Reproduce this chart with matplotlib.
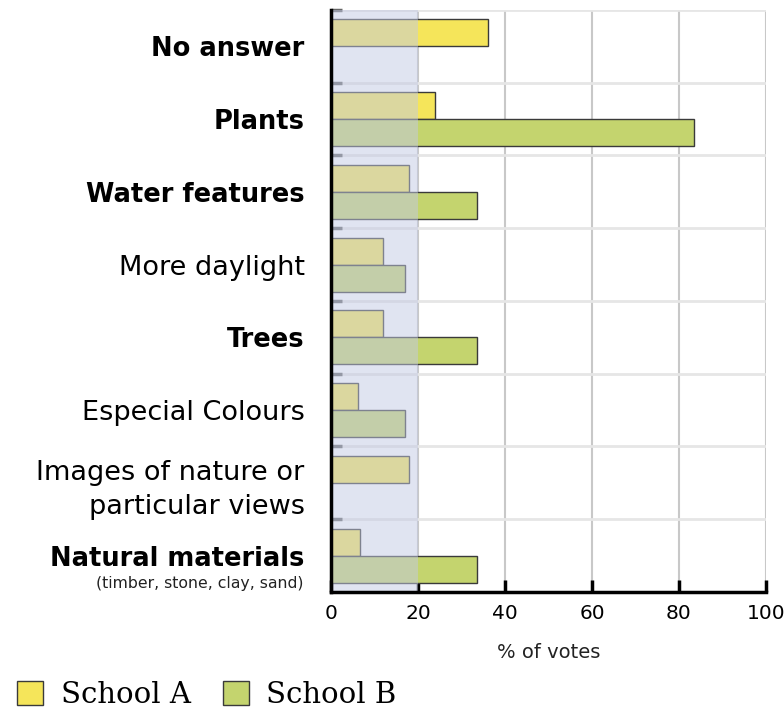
import numpy as np
import matplotlib.pyplot as plt
from matplotlib.patches import Patch

# survey categories, top to bottom
categories = ["No answer", "Plants", "Water features", "More daylight", "Trees",
              "Especial Colours", "Images of nature or\nparticular views", "Natural materials"]
bold_label = [True, True, True, False, True, False, False, True]
school_a = [36, 24, 18, 12, 12, 6.2, 18, 6.7]
school_b = [0, 83.5, 33.6, 17, 33.6, 17, 0, 33.6]
xticks = [0, 20, 40, 60, 80, 100]

col_a = "#f5e55a"
col_b = "#c4d46e"
edge = "#3a3a3a"

fig = plt.figure(figsize=(7.84, 7.11), dpi=100)
ax = fig.add_axes([0.4222, 0.1674, 0.5548, 0.8186])

y = np.arange(len(categories))
h = 0.37
ax.barh(y - h / 2, school_a, height=h, color=col_a, edgecolor=edge, linewidth=1, zorder=3)
bmask = np.array(school_b) > 0
ax.barh(y[bmask] + h / 2, np.array(school_b)[bmask], height=h, color=col_b,
        edgecolor=edge, linewidth=1, zorder=3)

# shaded band 0-20, laid over the bars
ax.axvspan(0, 20, color="#c3cae4", alpha=0.5, zorder=4, linewidth=0)

ax.set_xlim(0, 100)
ax.set_ylim(len(categories) - 0.5, -0.5)

# grid
for xv in xticks[1:]:
    ax.axvline(xv, color="#c8c8c8", linewidth=1.5, zorder=1)
for yb in np.arange(-0.5, len(categories) - 0.5, 1):
    ax.axhline(yb, color="#e6e6e6", linewidth=2, zorder=1)

ax.set_xticks(xticks)
ax.set_xticklabels([str(v) for v in xticks], fontsize=14.5)
ax.tick_params(axis="x", direction="in", length=9, width=2.5, color="black", pad=9)
ax.set_xlabel("% of votes", fontsize=14, labelpad=14, color="#222222")

ax.set_yticks(y)
ax.set_yticklabels(categories, linespacing=1.4)
ax.tick_params(axis="y", which="major", length=0, pad=19)
for lab, b in zip(ax.get_yticklabels(), bold_label):
    lab.set_fontweight("bold" if b else "normal")
    lab.set_fontsize(18.5 if b else 19.5)
ax.set_yticks(np.arange(-0.5, len(categories) - 0.5, 1), minor=True)
ax.tick_params(axis="y", which="minor", direction="in", length=8, width=2.5, color="#666666")

ax.annotate("(timber, stone, clay, sand)", xy=(0, y[-1]), xycoords=("axes fraction", "data"),
            xytext=(-20, -20), textcoords="offset points", ha="right", va="center",
            fontsize=11.3, color="#222222")

for s in ["top", "right"]:
    ax.spines[s].set_visible(False)
for s in ["left", "bottom"]:
    ax.spines[s].set_linewidth(2.5)
    ax.spines[s].set_color("black")
    ax.spines[s].set_zorder(6)

handles = [Patch(facecolor=col_a, edgecolor=edge, label="School A"),
           Patch(facecolor=col_b, edgecolor=edge, label="School B")]
fig.legend(handles=handles, loc="lower left", bbox_to_anchor=(-0.012, -0.034), ncol=2,
           frameon=False, prop={"family": "DejaVu Serif", "size": 21},
           handlelength=0.9, handleheight=0.9, handletextpad=0.6, columnspacing=1.1)

fig.savefig("out.png", dpi=100)
